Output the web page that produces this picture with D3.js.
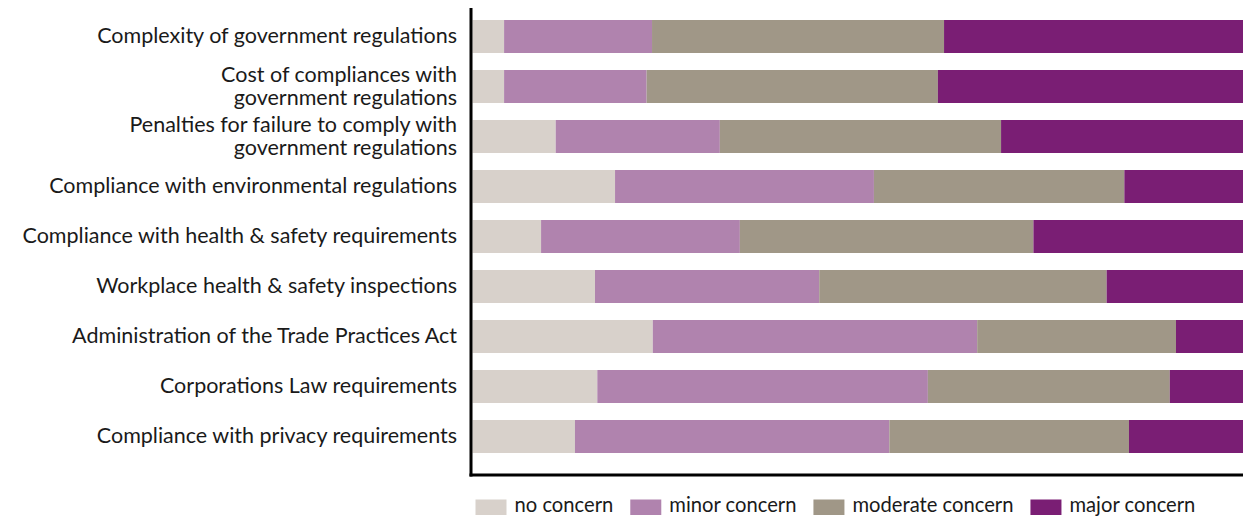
<!DOCTYPE html>
<html>
<head>
<meta charset="utf-8">
<script src="https://cdn.jsdelivr.net/npm/d3@7"></script>
<style>
  html, body { margin: 0; padding: 0; background: #fff; }
  svg { display: block; }
  text { font-family: Lato, "Open Sans", sans-serif; fill: #1a1a1a; }
</style>
</head>
<body>
<svg id="chart" width="1243" height="519"></svg>
<script>
// Survey items (top to bottom); "\n" splits a label over two lines
const categories = [
  "Complexity of government regulations",
  "Cost of compliances with\ngovernment regulations",
  "Penalties for failure to comply with\ngovernment regulations",
  "Compliance with environmental regulations",
  "Compliance with health & safety requirements",
  "Workplace health & safety inspections",
  "Administration of the Trade Practices Act",
  "Corporations Law requirements",
  "Compliance with privacy requirements"
];

const seriesNames = ["no concern", "minor concern", "moderate concern", "major concern"];

// Share of respondents (%) per level of concern, one entry per item
const noConcern       = [4.1, 4.1, 10.8, 18.5,  8.9, 15.9, 23.4, 16.2, 13.3];
const minorConcern    = [19.2, 18.5, 21.3, 33.6, 25.8, 29.1, 42.1, 42.9, 40.8];
const moderateConcern = [37.9, 37.8, 36.5, 32.5, 38.1, 37.3, 25.8, 31.4, 31.1];
const majorConcern    = [38.8, 39.6, 31.4, 15.4, 27.2, 17.7,  8.7,  9.5, 14.8];

const seriesColors = ["#d8d1cb", "#b083ae", "#a09787", "#7a1e74"];

const rows = categories.map((c, i) => ({
  category: c,
  "no concern": noConcern[i],
  "minor concern": minorConcern[i],
  "moderate concern": moderateConcern[i],
  "major concern": majorConcern[i]
}));

const svg = d3.select("#chart");
const plotLeft = 472.5, plotRight = 1243;

const x = d3.scaleLinear().domain([0, 100]).range([plotLeft, plotRight]);
const y = d3.scaleBand().domain(categories).range([20, 453]).paddingInner(0.34).paddingOuter(0);
const color = d3.scaleOrdinal().domain(seriesNames).range(seriesColors);

const stacked = d3.stack().keys(seriesNames)(rows);

// Stacked bars
svg.append("g")
  .selectAll("g")
  .data(stacked)
  .join("g")
    .attr("fill", d => color(d.key))
  .selectAll("rect")
  .data(d => d)
  .join("rect")
    .attr("x", d => x(d[0]))
    .attr("y", d => y(d.data.category))
    .attr("width", d => x(d[1]) - x(d[0]))
    .attr("height", y.bandwidth());

// Category labels, right-aligned against the axis
const labelX = 457;
const labels = svg.append("g")
  .attr("font-size", 21.5)
  .attr("text-anchor", "end");

categories.forEach(c => {
  const lines = c.split("\n");
  const cy = y(c) + y.bandwidth() / 2;
  const lineGap = 23;
  const firstBaseline = cy + 6.5 - (lines.length - 1) * lineGap / 2;
  const t = labels.append("text").attr("x", labelX);
  lines.forEach((ln, j) => {
    t.append("tspan")
      .attr("x", labelX)
      .attr("y", firstBaseline + j * lineGap)
      .text(ln);
  });
});

// L-shaped axis frame
svg.append("line")
  .attr("x1", 471).attr("x2", 471)
  .attr("y1", 8).attr("y2", 476.5)
  .attr("stroke", "#000").attr("stroke-width", 3);
svg.append("line")
  .attr("x1", 469.5).attr("x2", plotRight)
  .attr("y1", 475).attr("y2", 475)
  .attr("stroke", "#000").attr("stroke-width", 3);

// Legend
const legend = svg.append("g").attr("font-size", 20.2);
let lx = 475.5;
seriesNames.forEach(name => {
  legend.append("rect")
    .attr("x", lx).attr("y", 499.5)
    .attr("width", 31).attr("height", 15.5)
    .attr("fill", color(name));
  const t = legend.append("text")
    .attr("x", lx + 39).attr("y", 512)
    .text(name);
  const w = t.node().getComputedTextLength();
  lx = lx + 39 + w + 17;
});
</script>
</body>
</html>
